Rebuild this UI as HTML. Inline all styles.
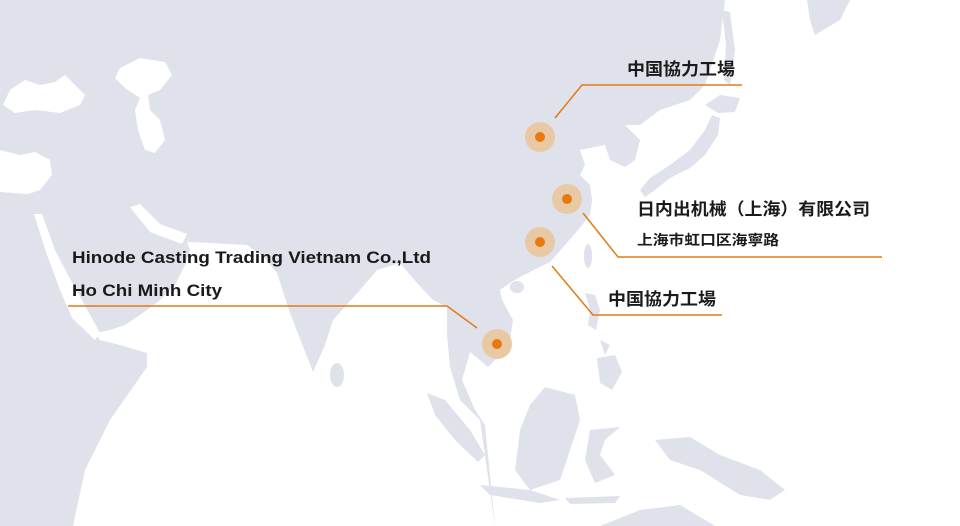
<!DOCTYPE html>
<html><head><meta charset="utf-8"><style>html,body{margin:0;padding:0;background:#fff}svg{display:block}</style></head>
<body>
<svg width="960" height="526" viewBox="0 0 960 526" xmlns="http://www.w3.org/2000/svg">
<rect width="960" height="526" fill="#dfe2ea"/>
<g fill="#ffffff">
<polygon points="0,150 20,155 35,152 50,160 52,175 40,190 28,194 0,192"/>
<polygon points="3,105 10,90 25,80 40,85 55,82 65,75 70,80 85,95 80,105 60,113 35,110 15,113"/>
<polygon points="120,68 140,58 165,62 172,75 160,90 148,95 150,110 160,120 165,140 155,153 145,150 138,130 135,110 140,98 125,88 115,78"/>
<!-- Red Sea -->
<polygon points="34,214 42,214 55,250 68,275 82,300 100,333 95,340 72,318 60,290 46,252"/>
<!-- Persian Gulf -->
<polygon points="130,207 140,204 160,224 187,234 182,244 150,232"/>
<!-- Indian Ocean -->
<polygon points="73,526 85,470 110,420 147,367 147,353 120,345 100,340 95,333 110,330 125,325 140,315 160,300 175,285 185,265 190,250 187,242 210,243 247,245 265,258 277,273 290,313 313,372 325,345 333,320 360,290 377,270 400,263 417,283 433,300 447,307 447,335 450,367 460,400 480,420 495,526"/>
<!-- Pacific -->
<polygon points="725,0 960,0 960,526 495,526 485,425 475,410 462,380 470,352 488,367 500,355 510,340 513,320 502,300 500,290 510,283 520,277 530,272 550,262 565,245 578,230 590,215 592,200 590,185 580,175 585,165 580,150 590,148 605,145 610,160 625,167 635,160 640,140 625,125 640,125 660,110 690,100 705,85 720,40"/>
</g>
<g fill="#dfe2ea">
<polygon points="640,190 650,178 670,165 690,150 705,130 712,115 720,118 718,135 705,155 690,168 670,178 655,190 645,197"/>
<polygon points="705,105 720,95 740,98 735,112 718,113"/>
<polygon points="722,10 730,12 735,50 730,85 724,80 726,45"/>
<polygon points="807,0 850,0 840,20 815,35 810,20"/>
<ellipse cx="588" cy="256" rx="4" ry="12"/>
<ellipse cx="517" cy="287" rx="7" ry="6"/>
<polygon points="585,293 595,295 600,310 596,330 588,325 590,310"/>
<polygon points="600,340 610,345 605,355"/>
<polygon points="597,358 615,355 622,372 612,390 600,383"/>
<polygon points="545,387 575,395 580,420 570,450 560,480 530,490 515,470 520,430 530,405"/>
<polygon points="590,430 620,427 605,440 600,455 615,475 595,483 585,460"/>
<polygon points="655,440 690,437 720,455 760,470 785,490 770,500 740,495 700,470 670,460"/>
<polygon points="480,485 530,490 560,500 540,503 490,495"/>
<polygon points="565,498 620,496 615,503 570,504"/>
<polygon points="427,393 445,400 470,430 485,455 478,462 455,440 435,415"/>
<ellipse cx="337" cy="375" rx="7" ry="12"/>
<polygon points="600,526 640,510 680,505 715,526"/>
</g>
<g fill="none" stroke="#e07b17" stroke-width="1.5">
<polyline points="555,118 582,85 742,85"/>
<polyline points="583,213 618,257 882,257"/>
<polyline points="552,266 593,315 722,315"/>
<polyline points="68,306 447,306 477,328"/>
</g>
<g>
<circle cx="540" cy="137" r="15" fill="#e9c9a4"/><circle cx="540" cy="137" r="5" fill="#e67a0f"/>
<circle cx="567" cy="199" r="15" fill="#e9c9a4"/><circle cx="567" cy="199" r="5" fill="#e67a0f"/>
<circle cx="540" cy="242" r="15" fill="#e9c9a4"/><circle cx="540" cy="242" r="5" fill="#e67a0f"/>
<circle cx="497" cy="344" r="15" fill="#e9c9a4"/><circle cx="497" cy="344" r="5" fill="#e67a0f"/>
</g>
<g fill="#1a1a1a" font-weight="bold" font-family="'Liberation Sans','Noto Sans CJK JP',sans-serif">
<text x="627" y="75" font-size="17" textLength="108" lengthAdjust="spacingAndGlyphs">中国協力工場</text>
<text x="637" y="215" font-size="17" textLength="233" lengthAdjust="spacingAndGlyphs">日内出机械（上海）有限公司</text>
<text x="637" y="245" font-size="14" textLength="142" lengthAdjust="spacingAndGlyphs">上海市虹口区海寧路</text>
<text x="608" y="305" font-size="17" textLength="108" lengthAdjust="spacingAndGlyphs">中国協力工場</text>
<text x="72" y="263" font-size="17" textLength="359" lengthAdjust="spacingAndGlyphs">Hinode Casting Trading Vietnam Co.,Ltd</text>
<text x="72" y="296" font-size="17" textLength="150" lengthAdjust="spacingAndGlyphs">Ho Chi Minh City</text>
</g>
</svg>
</body></html>
